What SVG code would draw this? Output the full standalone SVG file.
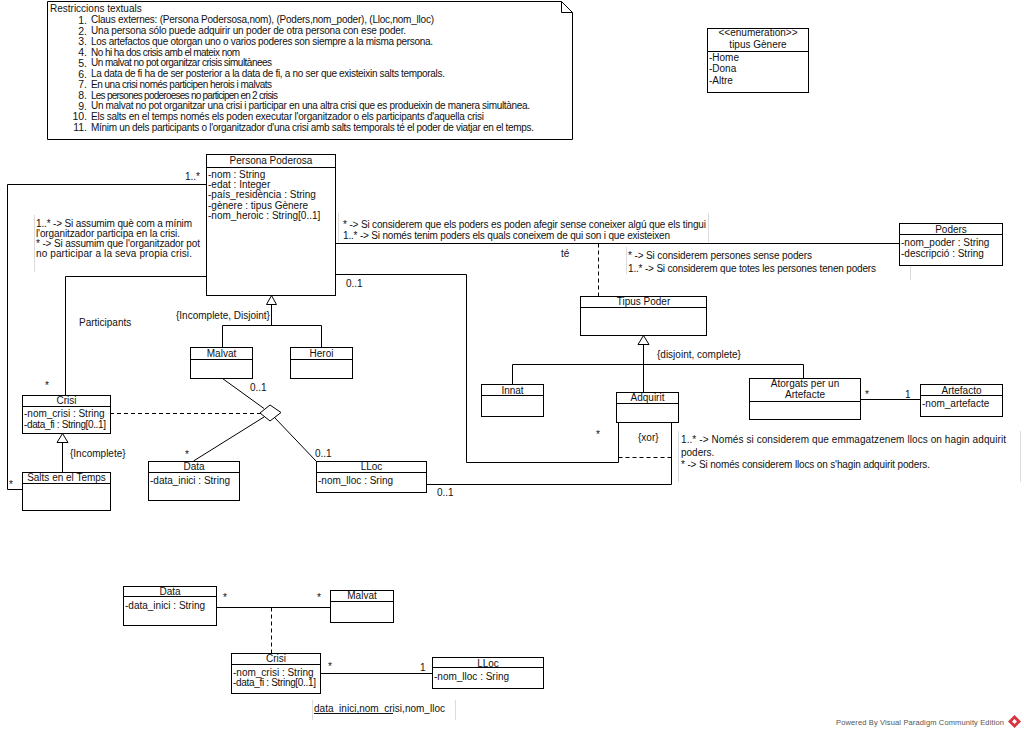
<svg xmlns="http://www.w3.org/2000/svg" width="1024" height="735" viewBox="0 0 1024 735">
  <style>
    text { font-family: "Liberation Sans", Arial, sans-serif; font-size: 10px; fill: #111; }
    .c { text-anchor: middle; }
    .num { font-size: 10.5px; text-anchor: end; }
    .box { fill: #fff; stroke: #000; stroke-width: 1; }
    .ln { fill: none; stroke: #000; stroke-width: 1; }
    .dash { fill: none; stroke: #000; stroke-width: 1; stroke-dasharray: 4 3; }
    .tri { fill: #fff; stroke: #000; stroke-width: 1; }
    .edge { fill: none; stroke: #dcdcdc; stroke-width: 1; }
    .wm { font-size: 7.5px; fill: #555; }
  </style>

  <rect width="1024" height="735" fill="#fff"/>

  <!-- constraints note -->
  <g id="note-restriccions">
    <path class="box" d="M47.5,1.5 H561.5 L572.5,12.5 V139.5 H47.5 Z"/>
    <path class="ln" d="M561.5,1.5 V12.5 H572.5"/>
    <text x="50" y="12">Restriccions textuals</text>
    <text class="num" x="87" y="23.5">1.</text>
    <text x="91" y="23" textLength="343">Claus externes: (Persona Podersosa,nom), (Poders,nom_poder), (Lloc,nom_lloc)</text>
    <text class="num" x="87" y="34.5">2.</text>
    <text x="91" y="34" textLength="315">Una persona sólo puede adquirir un poder de otra persona con ese poder.</text>
    <text class="num" x="87" y="45">3.</text>
    <text x="91" y="44.5" textLength="342">Los artefactos que otorgan uno o varios poderes son siempre a la misma persona.</text>
    <text class="num" x="87" y="56">4.</text>
    <text x="91" y="55.5" textLength="149">No hi ha dos crisis amb el mateix nom</text>
    <text class="num" x="87" y="66.5">5.</text>
    <text x="91" y="66" textLength="181">Un malvat no pot organitzar crisis simultànees</text>
    <text class="num" x="87" y="77.5">6.</text>
    <text x="91" y="77" textLength="354">La data de fi ha de ser posterior a la data de fi, a no ser que existeixin salts temporals.</text>
    <text class="num" x="87" y="88">7.</text>
    <text x="91" y="87.5" textLength="181">En una crisi només participen herois i malvats</text>
    <text class="num" x="87" y="99">8.</text>
    <text x="91" y="98.5" textLength="187">Les persones poderoeses no participen en 2 crisis</text>
    <text class="num" x="87" y="109.5">9.</text>
    <text x="91" y="109" textLength="439">Un malvat no pot organitzar una crisi i participar en una altra crisi que es produeixin de manera simultànea.</text>
    <text class="num" x="87" y="120">10.</text>
    <text x="91" y="119.5" textLength="393">Els salts en el temps només els poden executar l'organitzador o els participants d'aquella crisi</text>
    <text class="num" x="87" y="131">11.</text>
    <text x="91" y="130.5" textLength="443">Mínim un dels participants o l'organitzador d'una crisi amb salts temporals té el poder de viatjar en el temps.</text>
  </g>

  <!-- enumeration -->
  <g id="tipus-genere">
    <rect class="box" x="707.5" y="28.5" width="101" height="64"/>
    <path class="ln" d="M707.5,51.5 H808.5"/>
    <text class="c" x="758" y="36">&lt;&lt;enumeration&gt;&gt;</text>
    <text class="c" x="758" y="48">tipus Gènere</text>
    <text x="709" y="60.5">-Home</text>
    <text x="709" y="72">-Dona</text>
    <text x="709" y="84">-Altre</text>
  </g>

  <!-- connectors -->
  <g id="connectors">
    <!-- organitzador: Persona Poderosa - Salts en el Temps -->
    <path class="ln" d="M206,184.5 H7.5 V489.5 H22"/>
    <!-- participants: Persona Poderosa - Crisi -->
    <path class="ln" d="M206,276.5 H65.5 V395"/>
    <!-- té: Persona Poderosa - Poders -->
    <path class="ln" d="M335,243.5 H899"/>
    <path class="dash" d="M598.5,243.5 V296"/>
    <!-- Persona Poderosa - Adquirit -->
    <path class="ln" d="M335,274.5 H466.5 V462.5 H618.5 V422"/>
    <!-- LLoc - Adquirit -->
    <path class="ln" d="M426,484.5 H671.5 V422"/>
    <path class="dash" d="M618.5,457.5 H671"/>

    <!-- generalization Persona Poderosa -> Malvat / Heroi -->
    <path class="ln" d="M271.5,304.5 V325.5 M222.5,347 V325.5 H321.5 V347"/>
    <path class="tri" d="M271.5,295.5 L266.5,304.5 H276.5 Z"/>

    <!-- generalization Crisi -> Salts en el Temps -->
    <path class="ln" d="M62.5,442.5 V472"/>
    <path class="tri" d="M62.5,433.5 L57,442.5 H68 Z"/>

    <!-- generalization Tipus Poder -> Innat / Adquirit / Atorgats -->
    <path class="ln" d="M643.5,344.5 V392 M512.5,384 V364.5 H803.5 V378"/>
    <path class="tri" d="M643.5,335.5 L638,344.5 H649 Z"/>

    <!-- Atorgats per un Artefacte - Artefacto -->
    <path class="ln" d="M860,399.5 H920"/>

    <!-- ternary association Malvat / Data / LLoc with class Crisi -->
    <path class="ln" d="M222.5,378.5 L264,408.5"/>
    <path class="ln" d="M193.5,461 L264,417"/>
    <path class="ln" d="M316,461 L275,418"/>
    <path class="dash" d="M110,413.5 H260"/>
    <path class="tri" d="M260,413 L270,405 L281,412.5 L270,421 Z"/>

    <!-- lower diagram -->
    <path class="ln" d="M216,607.5 H330"/>
    <path class="dash" d="M271.5,607.5 V653"/>
    <path class="ln" d="M320,673.5 H432"/>
  </g>

  <!-- multiplicities and constraint labels -->
  <g id="labels">
    <text x="185" y="179.5">1..*</text>
    <text x="45" y="389">*</text>
    <text x="79" y="326">Participants</text>
    <text x="176" y="319">{Incomplete, Disjoint}</text>
    <text x="250" y="390.5">0..1</text>
    <text x="185" y="458">*</text>
    <text x="315" y="456.5">0..1</text>
    <text x="70" y="456.5">{Incomplete}</text>
    <text x="9" y="488">*</text>
    <text x="346" y="286.5">0..1</text>
    <text x="561" y="256.5">té</text>
    <text x="596" y="438">*</text>
    <text x="638" y="440.5">{xor}</text>
    <text x="437" y="495.5">0..1</text>
    <text x="657" y="357.5">{disjoint, complete}</text>
    <text x="865" y="398">*</text>
    <text x="905" y="397.5">1</text>
    <text x="223" y="601">*</text>
    <text x="317" y="601">*</text>
    <text x="328" y="670">*</text>
    <text x="420" y="670.5">1</text>
  </g>

  <!-- free-standing comments -->
  <g id="comment-participants">
    <path class="edge" d="M34.5,215 V272"/>
    <text x="36" y="226.5" textLength="156">1..* -&gt; Si assumim què com a mínim</text>
    <text x="36" y="236.5" textLength="144">l'organitzador participa en la crisi.</text>
    <text x="36" y="246.5" textLength="164">* -&gt; Si assumim que l'organitzador pot</text>
    <text x="36" y="256.5" textLength="156">no participar a la seva propia crisi.</text>
  </g>
  <g id="comment-poders">
    <path class="edge" d="M338.5,213 V242 M708.5,213 V242"/>
    <text x="343" y="227.5" textLength="363">* -&gt; Si considerem que els poders es poden afegir sense coneixer algú que els tingui</text>
    <text x="343" y="238.5" textLength="327">1..* -&gt; Si només tenim poders els quals coneixem de qui son i que existeixen</text>
  </g>
  <g id="comment-persones">
    <path class="edge" d="M626.5,247 V274 M910.5,257 V280"/>
    <text x="628" y="258.5" textLength="184">* -&gt; Si considerem persones sense poders</text>
    <text x="628" y="271.5" textLength="248">1..* -&gt; Si considerem que totes les persones tenen poders</text>
  </g>
  <g id="comment-llocs">
    <path class="edge" d="M678.5,431 V482 M1020.5,431 V482"/>
    <text x="681" y="442.5" textLength="325">1..* -&gt; Només si considerem que emmagatzenem llocs on hagin adquirit</text>
    <text x="681" y="455.5">poders.</text>
    <text x="681" y="467.5" textLength="249">* -&gt; Si només considerem llocs on s'hagin adquirit poders.</text>
  </g>
  <g id="comment-clau">
    <path class="edge" d="M312.5,700 V720 M455.5,700 V720"/>
    <text x="314" y="711.5" textLength="131">data_inici,nom_crisi,nom_lloc</text>
    <path d="M314,713.5 H393" stroke="#111" stroke-width="1"/>
  </g>

  <!-- classes -->
  <g id="persona-poderosa">
    <rect class="box" x="206.5" y="154.5" width="129" height="141"/>
    <path class="ln" d="M206.5,167.5 H335.5"/>
    <text class="c" x="271" y="163.5">Persona Poderosa</text>
    <text x="208" y="177.5">-nom : String</text>
    <text x="208" y="187.5">-edat : Integer</text>
    <text x="208" y="197.5">-país_residència : String</text>
    <text x="208" y="208.5">-gènere : tipus Gènere</text>
    <text x="208" y="219">-nom_heroic : String[0..1]</text>
  </g>

  <g id="poders">
    <rect class="box" x="899.5" y="223.5" width="103" height="42"/>
    <path class="ln" d="M899.5,234.5 H1002.5"/>
    <text class="c" x="951" y="232.5">Poders</text>
    <text x="901" y="245.5">-nom_poder : String</text>
    <text x="901" y="256.5">-descripció : String</text>
  </g>

  <g id="tipus-poder">
    <rect class="box" x="580.5" y="296.5" width="126" height="39"/>
    <path class="ln" d="M580.5,307.5 H706.5"/>
    <text class="c" x="643.5" y="305">Tipus Poder</text>
  </g>

  <g id="malvat">
    <rect class="box" x="190.5" y="347.5" width="62" height="31"/>
    <path class="ln" d="M190.5,359.5 H252.5"/>
    <text class="c" x="221.5" y="356.5">Malvat</text>
  </g>

  <g id="heroi">
    <rect class="box" x="290.5" y="347.5" width="62" height="31"/>
    <path class="ln" d="M290.5,359.5 H352.5"/>
    <text class="c" x="321.5" y="356.5">Heroi</text>
  </g>

  <g id="crisi">
    <rect class="box" x="22.5" y="395.5" width="88" height="38"/>
    <path class="ln" d="M22.5,406.5 H110.5"/>
    <text class="c" x="66.5" y="404">Crisi</text>
    <text x="24" y="416.5">-nom_crisi : String</text>
    <text x="24" y="428" textLength="82">-data_fi : String[0..1]</text>
  </g>

  <g id="salts-en-el-temps">
    <rect class="box" x="22.5" y="472.5" width="88" height="38"/>
    <path class="ln" d="M22.5,483.5 H110.5"/>
    <text class="c" x="66.5" y="481">Salts en el Temps</text>
  </g>

  <g id="data">
    <rect class="box" x="148.5" y="461.5" width="91" height="39"/>
    <path class="ln" d="M148.5,472.5 H239.5"/>
    <text class="c" x="194" y="470">Data</text>
    <text x="150" y="484">-data_inici : String</text>
  </g>

  <g id="lloc">
    <rect class="box" x="316.5" y="461.5" width="110" height="31"/>
    <path class="ln" d="M316.5,472.5 H426.5"/>
    <text class="c" x="371.5" y="470">LLoc</text>
    <text x="318" y="484">-nom_lloc : Sring</text>
  </g>

  <g id="innat">
    <rect class="box" x="481.5" y="384.5" width="62" height="32"/>
    <path class="ln" d="M481.5,395.5 H543.5"/>
    <text class="c" x="512.5" y="393.5">Innat</text>
  </g>

  <g id="adquirit">
    <rect class="box" x="616.5" y="392.5" width="62" height="30"/>
    <path class="ln" d="M616.5,403.5 H678.5"/>
    <text class="c" x="647.5" y="401">Adquirit</text>
  </g>

  <g id="atorgats">
    <rect class="box" x="749.5" y="378.5" width="111" height="41"/>
    <path class="ln" d="M749.5,401.5 H860.5"/>
    <text class="c" x="805" y="387">Atorgats per un</text>
    <text class="c" x="805" y="398">Artefacte</text>
  </g>

  <g id="artefacto">
    <rect class="box" x="920.5" y="384.5" width="82" height="32"/>
    <path class="ln" d="M920.5,395.5 H1002.5"/>
    <text class="c" x="961.5" y="393.5">Artefacto</text>
    <text x="922" y="406.5">-nom_artefacte</text>
  </g>

  <!-- lower diagram classes -->
  <g id="data-2">
    <rect class="box" x="123.5" y="586.5" width="93" height="39"/>
    <path class="ln" d="M123.5,596.5 H216.5"/>
    <text class="c" x="170" y="595">Data</text>
    <text x="125" y="608.5">-data_inici : String</text>
  </g>

  <g id="malvat-2">
    <rect class="box" x="330.5" y="590.5" width="63" height="32"/>
    <path class="ln" d="M330.5,601.5 H393.5"/>
    <text class="c" x="362" y="599">Malvat</text>
  </g>

  <g id="crisi-2">
    <rect class="box" x="231.5" y="653.5" width="89" height="40"/>
    <path class="ln" d="M231.5,664.5 H320.5"/>
    <text class="c" x="276" y="662">Crisi</text>
    <text x="233" y="675.5">-nom_crisi : String</text>
    <text x="233" y="686" textLength="83">-data_fi : String[0..1]</text>
  </g>

  <g id="lloc-2">
    <rect class="box" x="432.5" y="657.5" width="111" height="31"/>
    <path class="ln" d="M432.5,667.5 H543.5"/>
    <text class="c" x="488" y="666.5">LLoc</text>
    <text x="434" y="679.5">-nom_lloc : Sring</text>
  </g>

  <!-- footer -->
  <g id="footer">
    <text class="wm" x="836" y="725" textLength="168">Powered By Visual Paradigm Community Edition</text>
    <path d="M1014.5,715 L1021,721.5 L1014.5,728 L1008,721.5 Z" fill="#d9333f"/>
    <path d="M1014.5,719 L1017,721.5 L1014.5,724 L1012,721.5 Z" fill="#fff"/>
  </g>
</svg>
